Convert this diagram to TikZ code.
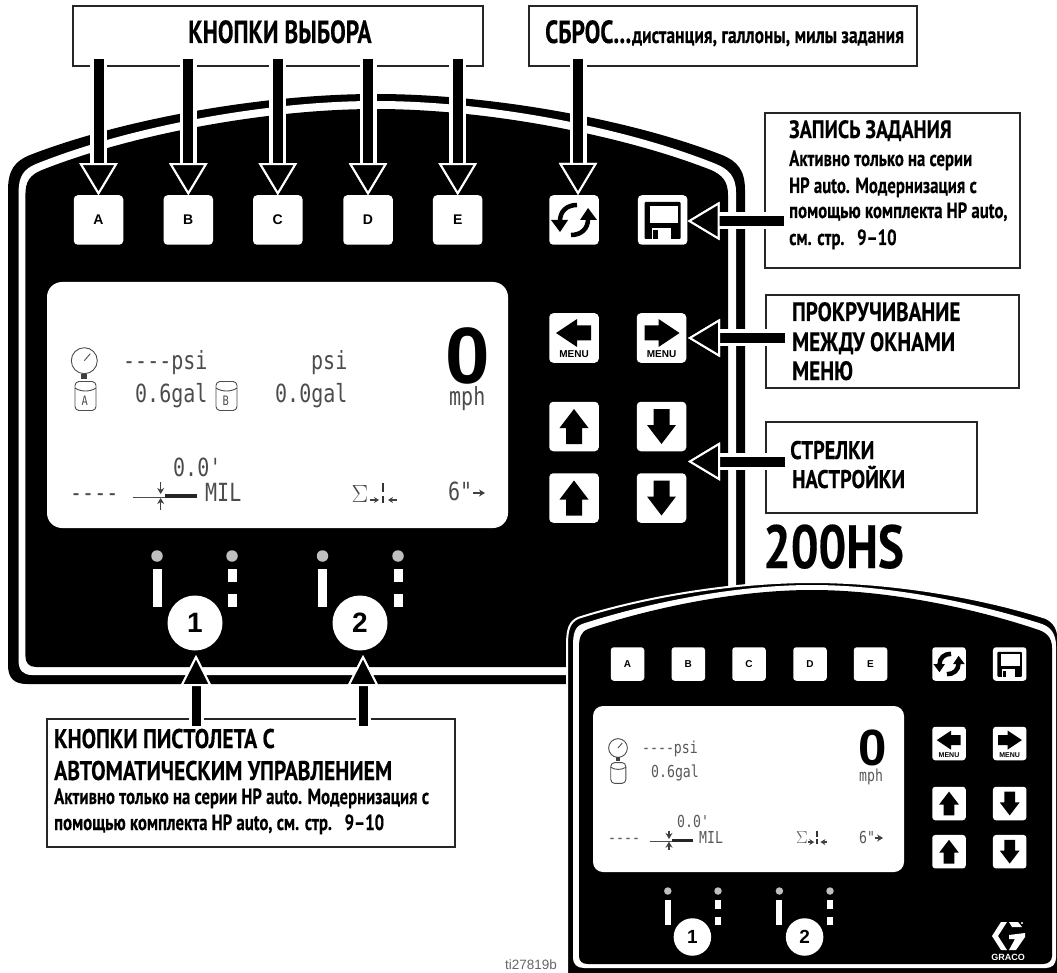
\documentclass[tikz,border=0pt]{standalone}
\usepackage{fontspec}
\usetikzlibrary{arrows.meta}
\newfontfamily\capfont[FakeStretch=0.73,FakeBold=0.3]{PT Sans}
\newfontfamily\headfont[FakeStretch=0.8,FakeBold=0.3]{PT Sans}
\newfontfamily\bodyfont[FakeStretch=0.76,FakeBold=0.2]{PT Sans}
\newfontfamily\keyfont{Liberation Sans}
\newfontfamily\lcdfont[FakeStretch=0.8]{DejaVu Sans Mono}
\tikzset{
  lblbox/.style={draw=black!85, line width=2pt, fill=white, inner sep=0pt, outer sep=0pt},
  lbltitle/.style={anchor=base west, inner sep=0pt, font=\capfont\bfseries\fontsize{32}{32}\selectfont},
  lblhead/.style={anchor=base west, inner sep=0pt, font=\headfont\bfseries\fontsize{26.5}{26.5}\selectfont},
  lblbody/.style={anchor=base west, inner sep=0pt, font=\bodyfont\bfseries\fontsize{22}{22}\selectfont},
  keybtn/.style={draw=none, fill=white, rounded corners=4pt, minimum size=49.5pt, inner sep=0pt, outer sep=0pt, font=\keyfont\bfseries\fontsize{14}{14}\selectfont},
  keysm/.style={keybtn, rounded corners=3pt, minimum size=33.5pt, font=\keyfont\bfseries\fontsize{10}{10}\selectfont},
  menutag/.style={inner sep=0pt, font=\keyfont\bfseries\fontsize{10}{10}\selectfont},
  menusm/.style={inner sep=0pt, font=\keyfont\bfseries\fontsize{7}{7}\selectfont},
  gunbtn/.style={circle, fill=white, minimum size=55pt, inner sep=0pt, outer sep=0pt, font=\keyfont\bfseries\fontsize{28}{28}\selectfont},
  gunsm/.style={gunbtn, minimum size=37.5pt, font=\keyfont\bfseries\fontsize{19}{19}\selectfont},
  ledlamp/.style={circle, fill=black!25, minimum size=11.5pt, inner sep=0pt},
  ledsm/.style={ledlamp, minimum size=7.5pt},
  lcdtext/.style={anchor=base west, inner sep=0pt, text=black!70, font=\lcdfont\fontsize{25}{25}\selectfont},
  lcdsm/.style={anchor=base west, inner sep=0pt, text=black!65, font=\lcdfont\fontsize{16.5}{16.5}\selectfont},
  speednum/.style={inner sep=0pt, font=\keyfont\bfseries\fontsize{80}{80}\selectfont},
  speedsm/.style={inner sep=0pt, font=\keyfont\bfseries\fontsize{51}{51}\selectfont},
  lcdline/.style={draw=black!70, line width=0.9pt},
  lcdarrow/.style={draw=black!75, line width=1.2pt},
  callout/.style={line width=10pt, -{Triangle[length=32pt,width=38pt,color=white,fill=black,line width=2pt]},
    preaction={draw=white, line width=17pt}},
  callup/.style={line width=9pt, -{Triangle[length=31pt,width=31pt,color=white,fill=black,line width=2pt]},
    preaction={draw=white, line width=15pt}},
  keyup/.pic={\fill[black] (0,-17.5) -- (14.5,1.5) -- (8,1.5) -- (8,17.5) -- (-8,17.5) -- (-8,1.5) -- (-14.5,1.5) -- cycle;},
  keydn/.pic={\fill[black] (0,17.5) -- (14.5,-1.5) -- (8,-1.5) -- (8,-17.5) -- (-8,-17.5) -- (-8,-1.5) -- (-14.5,-1.5) -- cycle;},
  keylf/.pic={\fill[black] (-18,-5) -- (3,-19) -- (3,-12.5) -- (17,-12.5) -- (17,2.5) -- (3,2.5) -- (3,9) -- cycle;},
  keyrt/.pic={\fill[black] (18,-5) -- (-3,-19) -- (-3,-12.5) -- (-17,-12.5) -- (-17,2.5) -- (-3,2.5) -- (-3,9) -- cycle;},
  keyreset/.pic={
    \draw[line width=4.5pt] (-14,1) .. controls (-14,-9) and (-7,-15) .. (3,-15);
    \draw[line width=4.5pt] (14,-1) .. controls (14,9) and (7,15) .. (-3,15);
    \fill[black] (-23,0) -- (-6,0) -- (-14,12) -- cycle;
    \fill[black] (23,0) -- (6,0) -- (14,-12) -- cycle;},
  keydisk/.pic={
    \fill[black, rounded corners=1pt] (-18,-18) rectangle (18,19);
    \fill[white] (-13,-14) rectangle (15,3);
    \fill[white] (-11,8) rectangle (8,19);
    \fill[black] (-10,10) rectangle (-5,19);},
  gauge/.pic={
    \draw[lcdline] (0,0) circle (13pt);
    \draw[lcdline] (0,0) -- (6,-7);
    \fill[black!75] (-3,13) rectangle (3,18);},
  tank/.pic={
    \draw[lcdline, rounded corners=4pt] (-10.5,-14.5) rectangle (10.5,14.5);
    \draw[lcdline] (-10.5,-8) .. controls (-5,-4) and (5,-4) .. (10.5,-8);},
  milmark/.pic={
    \draw[lcdline] (-28,0) -- (4,0);
    \fill[black!85] (4,-3) rectangle (36,1);
    \draw[lcdarrow, -{Stealth[length=6pt,width=7pt]}] (0,-15) -- (0,-3);
    \draw[lcdarrow, -{Stealth[length=6pt,width=7pt]}] (0,13) -- (0,1);},
  sumcross/.pic={
    \draw[lcdarrow, -{Stealth[length=5pt,width=6pt]}] (-13,6) -- (-4,6);
    \draw[lcdarrow, -{Stealth[length=5pt,width=6pt]}] (14,6) -- (5,6);
    \draw[black!80, line width=2pt] (0,-11) -- (0,-2);
    \draw[black!80, line width=2pt] (0,2) -- (0,9);},
  feedmark/.pic={\draw[lcdarrow, -{Stealth[length=6pt,width=7pt]}] (-6,0) -- (6,0);},
  lampbar/.pic={\fill[white] (-4.5,0) rectangle (4.5,38);},
  lampdash/.pic={\fill[white] (-4.5,0) rectangle (4.5,13); \fill[white] (-4.5,25) rectangle (4.5,38);},
}
\begin{document}
\begin{tikzpicture}[x=1pt, y=-1pt]
\useasboundingbox (0,0) rectangle (1057,973);
% large panel
\fill[black] (8,190) .. controls (8,170) and (15,161) .. (30,155) .. controls (120,120) and (260,94) .. (376,94) .. controls (492,94) and (632,120) .. (722,155) .. controls (737,161) and (745,170) .. (745,190) -- (745,684) -- (27,684) .. controls (14,684) and (8,678) .. (8,665) -- cycle;
\fill[white] (18.6,192) .. controls (18.6,176) and (24,169) .. (36,164) .. controls (125,128) and (262,101) .. (376,101) .. controls (490,101) and (627,128) .. (716,164) .. controls (728,169) and (736,176) .. (736,192) -- (736,675) -- (32,675) .. controls (23,675) and (18.6,670) .. (18.6,661) -- cycle;
\fill[black] (25.4,195) .. controls (25.4,181) and (30,175) .. (42,170) .. controls (130,135) and (265,109) .. (376,109) .. controls (487,109) and (622,135) .. (711,170) .. controls (722,175) and (728,181) .. (728,195) -- (728,667) -- (36,667) .. controls (29,667) and (25.4,663) .. (25.4,656) -- cycle;
% keys on the large panel
\node[keybtn] (btna) at (98.5,220) {A};
\node[keybtn] (btnb) at (188.3,220) {B};
\node[keybtn] (btnc) at (277.8,220) {C};
\node[keybtn] (btnd) at (368,220) {D};
\node[keybtn] (btne) at (457.7,220) {E};
\node[keybtn] (btnreset) at (574,220) {};
\node[keybtn] (btndisk) at (662.6,220) {};
\node[keybtn] (btnleft) at (574,338) {};
\node[keybtn] (btnright) at (661.5,338) {};
\node[keybtn] (btnup) at (574,426.5) {};
\node[keybtn] (btndown) at (661.5,426.5) {};
\node[keybtn] (btnup2) at (574,498) {};
\node[keybtn] (btndown2) at (661.5,498) {};
\pic at (btnreset) {keyreset};
\pic at (btndisk) {keydisk};
\pic at (btnleft) {keylf};
\pic at (btnright) {keyrt};
\pic at (btnup) {keyup};
\pic at (btndown) {keydn};
\pic at (btnup2) {keyup};
\pic at (btndown2) {keydn};
\node[menutag] (tagleft) at (574,354) {MENU};
\node[menutag] (tagright) at (661.5,354) {MENU};
% large display
\fill[white, rounded corners=15pt] (47,282) rectangle (508,528);
\pic at (84.3,360.7) {gauge};
\pic at (85.5,396) {tank};
\pic at (226.5,396) {tank};
\node[lcdtext, font=\lcdfont\fontsize{13}{13}\selectfont] (tanka) at (81.5,405) {A};
\node[lcdtext, font=\lcdfont\fontsize{13}{13}\selectfont] (tankb) at (222.5,405) {B};
\node[lcdtext] (psia) at (123,370) {----psi};
\node[lcdtext] (psib) at (311,370) {psi};
\node[lcdtext] (gala) at (135,402.7) {0.6gal};
\node[lcdtext] (galb) at (275,402.7) {0.0gal};
\node[speednum] (speed) at (467.5,356) {0};
\node[lcdtext] (speedunit) at (449,405) {mph};
\node[lcdtext] (depth) at (173,476) {0.0'};
\node[lcdtext] (dashes) at (70,501) {----};
\pic at (160.7,497) {milmark};
\node[lcdtext] (milunit) at (205,501) {MIL};
\node[lcdtext, anchor=center, font=\fontsize{25}{25}\selectfont] (sumsign) at (360,494) {$\Sigma$};
\pic at (383,494) {sumcross};
\node[lcdtext] (pitch) at (448,500) {6"};
\pic at (479,493) {feedmark};
% gun lamps
\node[ledlamp] (lamp1) at (157,556) {};
\node[ledlamp] (lamp2) at (232,556) {};
\node[ledlamp] (lamp3) at (322.5,556) {};
\node[ledlamp] (lamp4) at (398,556) {};
\pic at (157,569) {lampbar};
\pic at (232,569) {lampdash};
\pic at (322.5,569) {lampbar};
\pic at (398,569) {lampdash};
\node[gunbtn] (gun1) at (195,623) {1};
\node[gunbtn] (gun2) at (360,623) {2};
% small panel
\fill[black, draw=white, line width=2pt] (567,645) .. controls (567,628) and (570,622) .. (578,618) .. controls (640,598) and (730,582) .. (812,582) .. controls (894,582) and (984,598) .. (1046,618) .. controls (1054,622) and (1059,628) .. (1059,645) -- (1059,975) -- (567,975) -- cycle;
\fill[white] (573,646) .. controls (573,633) and (575,627) .. (582,624) .. controls (644,604) and (732,585) .. (812,585) .. controls (892,585) and (980,604) .. (1042,624) .. controls (1050,627) and (1056,633) .. (1056,646) -- (1056,958) .. controls (1056,964) and (1052,968) .. (1046,968) -- (584,968) .. controls (577,968) and (573,964) .. (573,958) -- cycle;
\fill[black] (579,648) .. controls (579,637) and (581,632) .. (588,629) .. controls (648,609) and (734,590) .. (812,590) .. controls (890,590) and (976,609) .. (1036,629) .. controls (1046,632) and (1052,637) .. (1052,648) -- (1052,956) .. controls (1052,961) and (1048,964) .. (1043,964) -- (588,964) .. controls (582,964) and (579,961) .. (579,956) -- cycle;
% keys on the small panel
\node[keysm] (sma) at (627.5,664) {A};
\node[keysm] (smb) at (688.3,664) {B};
\node[keysm] (smc) at (749,664) {C};
\node[keysm] (smd) at (810,664) {D};
\node[keysm] (sme) at (870.5,664) {E};
\node[keysm] (smreset) at (949,664) {};
\node[keysm] (smdisk) at (1009.7,664) {};
\node[keysm] (smleft) at (949,743.5) {};
\node[keysm] (smright) at (1009.7,743.5) {};
\node[keysm] (smup) at (949,803.5) {};
\node[keysm] (smdown) at (1009.7,803.5) {};
\node[keysm] (smup2) at (949,851.7) {};
\node[keysm] (smdown2) at (1009.7,851.7) {};
\pic[scale=.68] at (smreset) {keyreset};
\pic[scale=.68] at (smdisk) {keydisk};
\pic[scale=.68] at (smleft) {keylf};
\pic[scale=.68] at (smright) {keyrt};
\pic[scale=.68] at (smup) {keyup};
\pic[scale=.68] at (smdown) {keydn};
\pic[scale=.68] at (smup2) {keyup};
\pic[scale=.68] at (smdown2) {keydn};
\node[menusm] (smtagleft) at (949,755) {MENU};
\node[menusm] (smtagright) at (1009.7,755) {MENU};
% small display
\fill[white, rounded corners=10pt] (593,706) rectangle (904,872);
\pic[scale=.72] at (618,748) {gauge};
\pic[scale=.72] at (618.3,773) {tank};
\node[lcdsm] (smpsi) at (642,753) {----psi};
\node[lcdsm] (smgal) at (651,777) {0.6gal};
\node[speedsm] (smspeed) at (872.3,747.5) {0};
\node[lcdsm] (smunit) at (859,781) {mph};
\node[lcdsm] (smdepth) at (677,827) {0.0'};
\node[lcdsm] (smdash) at (608,843) {----};
\pic[scale=.68] at (669,841) {milmark};
\node[lcdsm] (smmil) at (699,843) {MIL};
\node[lcdsm, anchor=center, font=\fontsize{17}{17}\selectfont] (smsum) at (802,838) {$\Sigma$};
\pic[scale=.68] at (817,838) {sumcross};
\node[lcdsm] (smpitch) at (859,843) {6"};
\pic[scale=.68] at (879,838) {feedmark};
% small gun lamps
\node[ledsm] (smlamp1) at (667.8,891) {};
\node[ledsm] (smlamp2) at (718,891) {};
\node[ledsm] (smlamp3) at (779.4,891) {};
\node[ledsm] (smlamp4) at (830,891) {};
\pic[scale=.66] at (667.8,900) {lampbar};
\pic[scale=.66] at (718,900) {lampdash};
\pic[scale=.66] at (779.4,900) {lampbar};
\pic[scale=.66] at (830,900) {lampdash};
\node[gunsm] (smgun1) at (692.4,937) {1};
\node[gunsm] (smgun2) at (804.6,937) {2};
% maker mark
\fill[white] (992,936) -- (1001,922) -- (1007,922) -- (998,936) -- (1007,950) -- (1001,950) -- cycle;
\fill[white] (1009,922) -- (1018,922) -- (1022,927) -- (1012,927) -- cycle;
\fill[white] (1009,935) -- (1025,933) -- (1025,937) -- (1016,950) -- (1009,950) -- (1015,939) -- (1009,939) -- cycle;
\fill[white] (1022,923) circle (1.2pt);
\node[inner sep=0pt, text=white, font=\keyfont\bfseries\fontsize{9}{9}\selectfont] (maker) at (1008,957) {GRACO};
% labels
\node[lblbox, minimum width=410pt, minimum height=60pt, anchor=north west] (lblsel) at (73,6) {};
\node[lblbox, minimum width=388pt, minimum height=60pt, anchor=north west] (lblreset) at (529,6) {};
\node[lblbox, minimum width=255pt, minimum height=155pt, anchor=north west] (lblsave) at (765,113) {};
\node[lblbox, minimum width=253pt, minimum height=93pt, anchor=north west] (lblmenu) at (766,295) {};
\node[lblbox, minimum width=211pt, minimum height=91pt, anchor=north west] (lbltune) at (766,422) {};
\node[lblbox, minimum width=408.5pt, minimum height=128pt, anchor=north west] (lblgun) at (46.5,719) {};
\node[lbltitle] (txtsel) at (188,43) {КНОПКИ ВЫБОРА};
\node[lbltitle] (txtreset) at (545,43) {СБРОС...};
\node[lblbody, font=\bodyfont\bfseries\fontsize{23}{23}\selectfont] (txtresetsub) at (632,43) {дистанция, галлоны, милы задания};
\node[lblhead, font=\headfont\bfseries\fontsize{25}{25}\selectfont] (txtsave) at (789,138) {ЗАПИСЬ ЗАДАНИЯ};
\node[lblbody] (txtsave1) at (789,166) {Активно только на серии};
\node[lblbody] (txtsave2) at (789,193) {HP auto. Модернизация с};
\node[lblbody] (txtsave3) at (789,218) {помощью комплекта HP auto,};
\node[lblbody] (txtsave4) at (789,245) {см. стр.\ \ \ 9–10};
\node[lblhead] (txtmenu1) at (792,321) {ПРОКРУЧИВАНИЕ};
\node[lblhead] (txtmenu2) at (792,351) {МЕЖДУ ОКНАМИ};
\node[lblhead] (txtmenu3) at (792,380) {МЕНЮ};
\node[lblhead, font=\headfont\bfseries\fontsize{25.5}{25.5}\selectfont] (txttune1) at (790,459) {СТРЕЛКИ};
\node[lblhead, font=\headfont\bfseries\fontsize{25.5}{25.5}\selectfont] (txttune2) at (792,488) {НАСТРОЙКИ};
\node[lblhead, font=\headfont\bfseries\fontsize{27}{27}\selectfont] (txtgun1) at (54,748) {КНОПКИ ПИСТОЛЕТА С};
\node[lblhead, font=\headfont\bfseries\fontsize{27}{27}\selectfont] (txtgun2) at (54,780) {АВТОМАТИЧЕСКИМ УПРАВЛЕНИЕМ};
\node[lblbody] (txtgun3) at (54,804) {Активно только на серии HP auto. Модернизация с};
\node[lblbody] (txtgun4) at (54,830) {помощью комплекта HP auto, см. стр.\ \ \ 9–10};
\node[anchor=base, inner sep=0pt, font=\headfont\bfseries\fontsize{61}{61}\selectfont] (modelname) at (833.5,568) {200HS};
\node[inner sep=0pt, text=black!60, font=\keyfont\fontsize{13.5}{13.5}\selectfont] (figcode) at (531,965) {ti27819b};
% callouts
\coordinate (rsttip) at (578,195);
\coordinate (disktip) at (687.5,221);
\coordinate (menutip) at (688,338);
\coordinate (tunetip) at (688,461.5);
\coordinate (gun1tip) at (196,655);
\coordinate (gun2tip) at (363,655);
\draw[callout, shorten <=-7pt] (lblsel.south -| btna) -- (btna.north);
\draw[callout, shorten <=-7pt] (lblsel.south -| btnb) -- (btnb.north);
\draw[callout, shorten <=-7pt] (lblsel.south -| btnc) -- (btnc.north);
\draw[callout, shorten <=-7pt] (lblsel.south -| btnd) -- (btnd.north);
\draw[callout, shorten <=-7pt] (lblsel.south -| btne) -- (btne.north);
\draw[callout, shorten <=-7pt] (lblreset.south -| rsttip) -- (rsttip);
\draw[callout, shorten <=-19pt] (lblsave.west |- disktip) -- (disktip);
\draw[callout, shorten <=-19pt] (lblmenu.west |- menutip) -- (menutip);
\draw[callout, shorten <=-19pt] (lbltune.west |- tunetip) -- (tunetip);
\draw[callup, shorten <=-7pt] (lblgun.north -| gun1tip) -- (gun1tip);
\draw[callup, shorten <=-7pt] (lblgun.north -| gun2tip) -- (gun2tip);
\end{tikzpicture}
\end{document}
